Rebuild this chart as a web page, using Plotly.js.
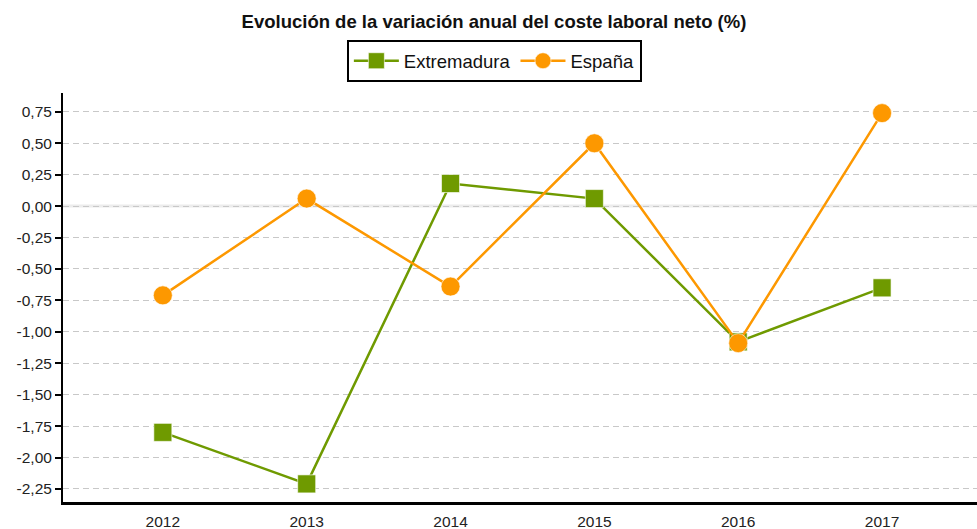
<!DOCTYPE html>
<html>
<head>
<meta charset="utf-8">
<script src="https://cdn.plot.ly/plotly-3.0.1.min.js"></script>
<style>html,body{margin:0;padding:0;background:#fff;}#chart{width:977px;height:529px;}</style>
</head>
<body>
<div id="chart"></div>
<script>
const years = ["2012", "2013", "2014", "2015", "2016", "2017"];
const extremadura = [-1.80, -2.21, 0.18, 0.06, -1.08, -0.65];
const espana = [-0.71, 0.06, -0.64, 0.50, -1.09, 0.74];
const yTickVals = [0.75, 0.5, 0.25, 0, -0.25, -0.5, -0.75, -1, -1.25, -1.5, -1.75, -2, -2.25];
const yTickText = ["0,75", "0,50", "0,25", "0,00", "-0,25", "-0,50", "-0,75", "-1,00", "-1,25", "-1,50", "-1,75", "-2,00", "-2,25"];

const FONT = "Liberation Sans, Arial, Helvetica, sans-serif";
const GREEN = "#6f9a00";
const ORANGE = "#fd9800";

const traces = [
  {
    x: years, y: extremadura, name: "Extremadura", type: "scatter", mode: "lines+markers",
    line: {color: GREEN, width: 2.5},
    marker: {symbol: "square", size: 18, color: GREEN, line: {color: "rgba(255,255,255,0.6)", width: 1}}
  },
  {
    x: years, y: espana, name: "España", type: "scatter", mode: "lines+markers",
    line: {color: ORANGE, width: 2.5},
    marker: {symbol: "circle", size: 19, color: ORANGE, line: {color: "rgba(255,255,255,0.6)", width: 1}}
  }
];

const layout = {
  width: 977, height: 529,
  margin: {l: 63, r: 0, t: 93, b: 27, pad: 0},
  paper_bgcolor: "#fff", plot_bgcolor: "#fff",
  font: {family: FONT, size: 15, color: "#222"},
  title: {
    text: "<b>Evolución de la variación anual del coste laboral neto (%)</b>",
    font: {family: FONT, size: 18.5, color: "#111"},
    xref: "container", x: 0.5056, xanchor: "center",
    yref: "container", y: 0.9585, yanchor: "middle"
  },
  showlegend: true,
  legend: {
    orientation: "h",
    xref: "container", x: 0.506, xanchor: "center",
    yref: "container", y: 0.924, yanchor: "top",
    bordercolor: "#000", borderwidth: 2, bgcolor: "#fff",
    font: {family: FONT, size: 18.5, color: "#111"},
    itemwidth: 45,
    traceorder: "normal"
  },
  xaxis: {
    type: "category",
    range: [-0.694, 5.66],
    showgrid: false, zeroline: false,
    showline: true, linecolor: "#000", linewidth: 3,
    ticks: "outside", ticklen: 3, tickcolor: "rgba(0,0,0,0)",
    tickfont: {family: FONT, size: 15.5, color: "#222"},
    fixedrange: true
  },
  yaxis: {
    range: [-2.354, 0.9],
    tickvals: yTickVals, ticktext: yTickText,
    showgrid: true, gridcolor: "#c8c8c8", gridwidth: 1, griddash: "6px,4px",
    zeroline: false,
    showline: true, linecolor: "#000", linewidth: 2,
    ticks: "outside", ticklen: 6, tickwidth: 2, tickcolor: "#000",
    tickfont: {family: FONT, size: 15.5, color: "#222"},
    fixedrange: true
  },
  shapes: [
    {type: "line", layer: "below", xref: "paper", x0: 0, x1: 1, yref: "y", y0: 0, y1: 0,
     line: {color: "#ececec", width: 3}}
  ]
};

Plotly.newPlot("chart", traces, layout, {displayModeBar: false, staticPlot: true});
</script>
</body>
</html>
